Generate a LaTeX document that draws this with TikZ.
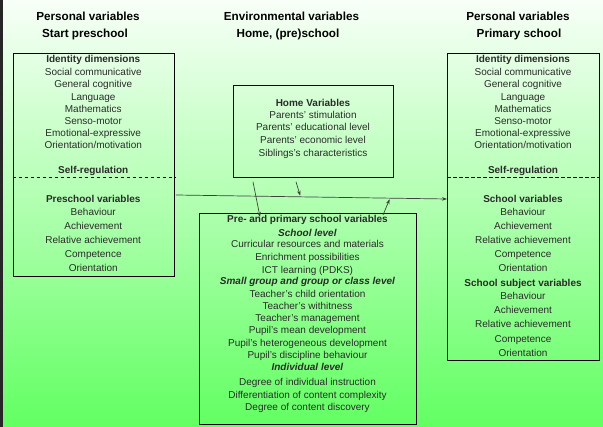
\documentclass[tikz,border=0pt]{standalone}
\usepackage{fontspec}
\setmainfont{Liberation Sans}
\usetikzlibrary{arrows.meta,calc}
\definecolor{txt}{HTML}{2B2B2B}
\definecolor{bgtop}{HTML}{F8FFF8}
\definecolor{bgbot}{HTML}{62FF62}
\begin{document}
\begin{tikzpicture}[x=1pt,y=-1pt,
  box/.style={draw=black,line width=0.8pt,inner sep=0pt,anchor=north west},
  t/.style={font=\fontsize{10}{12}\selectfont,text=txt,inner sep=0pt,text height=7.2pt,text depth=0pt},
  hd/.style={font=\fontsize{11.7}{14}\selectfont\bfseries,text=black,inner sep=0pt,text height=8.4pt,text depth=0pt},
  sep/.style={draw=black,line width=0.7pt,dash pattern=on 3.5pt off 2.5pt},
  conn/.style={draw=black!75,line width=0.7pt,-{Stealth[length=5pt,width=3.6pt]}}
]
\useasboundingbox (0,0) rectangle (603,427);
\shade[top color=bgtop,bottom color=bgbot] (0,0) rectangle (603,427);
\fill[black!85] (0,0) rectangle (2.5,427);

% headers
\node[hd] (h1a) at (88,16) {Personal variables};
\node[hd] (h1b) at (85,33) {Start preschool};
\node[hd] (h2a) at (291.5,16) {Environmental variables};
\node[hd] (h2b) at (288,33) {Home, (pre)school};
\node[hd] (h3a) at (518,16) {Personal variables};
\node[hd] (h3b) at (519,33) {Primary school};

% boxes
\node[box,minimum width=161.5pt,minimum height=223pt] (L) at (12.5,53) {};
\node[box,minimum width=152pt,minimum height=307pt] (R) at (447,53) {};
\node[box,minimum width=160pt,minimum height=92pt] (H) at (233,85) {};
\node[box,minimum width=217pt,minimum height=211pt] (C) at (199,213) {};

% dashed separators
\draw[sep] ($(L.north west)+(0,124)$) -- ($(L.north east)+(0,124)$);
\draw[sep] ($(R.north west)+(0,124)$) -- ($(R.north east)+(0,124)$);

% left box text
\foreach \y/\s [count=\i] in {59.3/\textbf{Identity dimensions},72/Social communicative,84/General cognitive,96.5/Language,108.5/Mathematics,120.5/Senso-motor,132.5/Emotional-expressive,145/{Orientation/motivation},170/\textbf{Self-regulation},198.5/\textbf{Preschool variables},212.3/Behaviour,226.3/Achievement,240.3/Relative achievement,254.3/Competence,268.3/Orientation}
  \node[t] (lt\i) at (93.25,\y) {\s};

% right box text
\foreach \y/\s [count=\i] in {59.3/\textbf{Identity dimensions},72/Social communicative,84/General cognitive,96.5/Language,108.5/Mathematics,120.5/Senso-motor,132.5/Emotional-expressive,145/{Orientation/motivation},170/\textbf{Self-regulation},198.5/\textbf{School variables},212.3/Behaviour,226.3/Achievement,240.3/Relative achievement,254.3/Competence,268.3/Orientation,282.7/\textbf{School subject variables},296.3/Behaviour,310.3/Achievement,324.3/Relative achievement,339/Competence,353/Orientation}
  \node[t] (rt\i) at (523,\y) {\s};

% home box text
\foreach \y/\s [count=\i] in {103.3/\textbf{Home Variables},115.3/Parents’ stimulation,127.3/Parents’ educational level,140.3/Parents’ economic level,153/Siblings’s characteristics}
  \node[t] (ht\i) at (313,\y) {\s};

% center box text
\foreach \y/\s [count=\i] in {219.3/\textbf{Pre- and primary school variables},232.7/\textbf{\textit{School level}},244.3/Curricular resources and materials,257.3/Enrichment possibilities,269.7/ICT learning (PDKS),281.3/\textbf{\textit{Small group and group or class level}},293.7/Teacher’s child orientation,306.3/Teacher’s withitness,318.3/Teacher’s management,330.3/Pupil’s mean development,342.7/Pupil’s heterogeneous development,355/Pupil’s discipline behaviour,367.3/\textbf{\textit{Individual level}},381.7/Degree of individual instruction,395.3/Differentiation of content complexity,407.3/Degree of content discovery}
  \node[t] (ct\i) at (307.5,\y) {\s};

% connectors
\coordinate (ls) at ($(L.north east)+(1,142)$);
\coordinate (re) at ($(R.north west)+(0,146)$);
\draw[conn] (ls) -- (re);
\coordinate (m1) at ($(ls)!0.46!(re)$);
\coordinate (m2) at ($(ls)!0.79!(re)$);
\draw[conn] ($(H.south west)+(20,4)$) -- ($(C.north west)+(61,4)$);
\draw[conn,shorten >=1.2pt] ($(H.south west)+(63,4)$) -- (m1);
\draw[conn,shorten >=1.2pt] ($(C.north west)+(184,2)$) -- (m2);
\end{tikzpicture}
\end{document}
